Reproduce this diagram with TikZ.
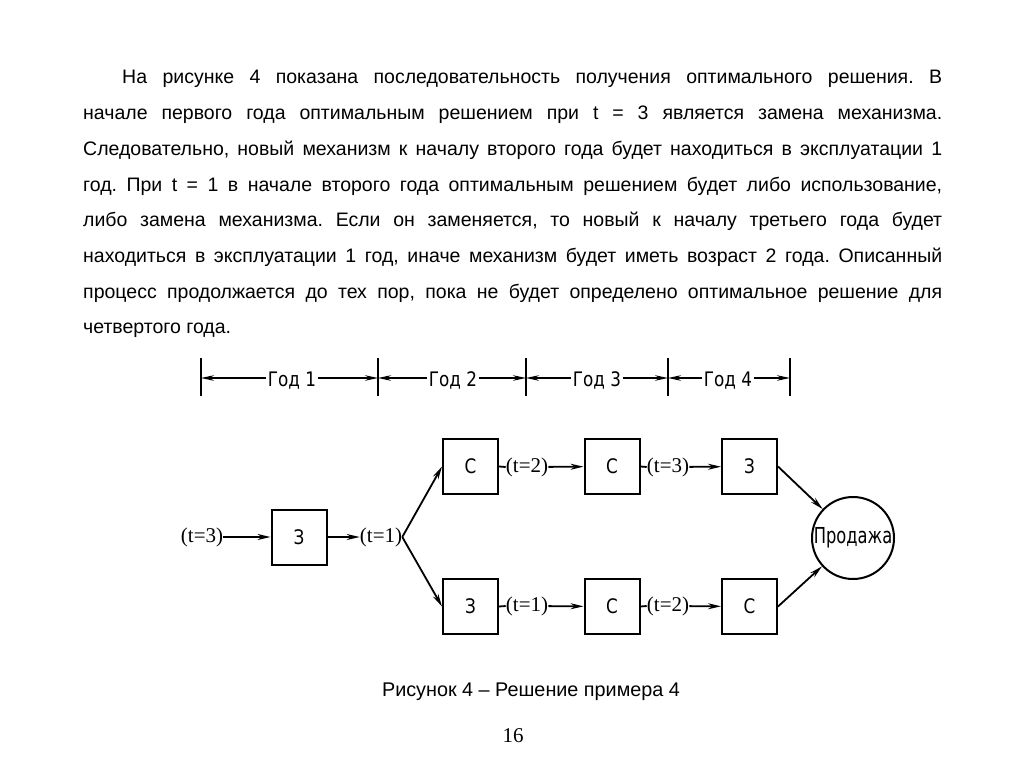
\documentclass[tikz,border=0pt]{standalone}
\usepackage{fontspec}
\setmainfont{Liberation Sans}
\newfontfamily\serifnum{Liberation Serif}
\newfontfamily\gost[FakeStretch=0.84]{DejaVu Sans}
\newfontfamily\gostn[FakeStretch=0.74]{DejaVu Sans}
\usetikzlibrary{arrows.meta}
\frenchspacing
\begin{document}
\begin{tikzpicture}[x=1pt,y=-1pt,
  txt/.style={anchor=base west, inner sep=0pt, font=\fontsize{19.5}{19.5}\selectfont},
  box/.style={draw, line width=2pt, minimum width=55pt, minimum height=55pt, inner sep=0pt, font=\gost\fontsize{20}{20}\selectfont},
  sale/.style={draw, circle, line width=2pt, minimum size=82pt, inner sep=0pt, font=\gostn\fontsize{22}{22}\selectfont},
  tlab/.style={inner sep=0pt, font=\serifnum\fontsize{21}{21}\selectfont},
  ylab/.style={anchor=base, inner xsep=2pt, inner ysep=0pt, font=\gost\fontsize{20}{20}\selectfont},
  conn/.style={line width=1.8pt, -{Stealth[length=13pt,width=6pt]}},
  plainline/.style={line width=1.8pt},
  dim/.style={line width=1.4pt, -{Stealth[length=13pt,width=5.5pt]}},
  tick/.style={line width=2.4pt}
]
\useasboundingbox[fill=white] (0,0) rectangle (1024,767);

% paragraph
\node[txt] (l1) at (122,84) {\makebox[820pt][s]{На рисунке 4 показана последовательность получения оптимального решения. В}};
\node[txt] (l2) at (83,119.7) {\makebox[859pt][s]{начале первого года оптимальным решением при t = 3 является замена механизма.}};
\node[txt] (l3) at (83,155.4) {\makebox[859pt][s]{Следовательно, новый механизм к началу второго года будет находиться в эксплуатации 1}};
\node[txt] (l4) at (83,191.1) {\makebox[859pt][s]{год. При t = 1 в начале второго года оптимальным решением будет либо использование,}};
\node[txt] (l5) at (83,226.8) {\makebox[859pt][s]{либо замена механизма. Если он заменяется, то новый к началу третьего года будет}};
\node[txt] (l6) at (83,262.5) {\makebox[859pt][s]{находиться в эксплуатации 1 год, иначе механизм будет иметь возраст 2 года. Описанный}};
\node[txt] (l7) at (83,298.2) {\makebox[859pt][s]{процесс продолжается до тех пор, пока не будет определено оптимальное решение для}};
\node[txt] (l8) at (83,333.9) {четвертого года.};

% timeline
\coordinate (k0) at (201,378);
\coordinate (k1) at (378,378);
\coordinate (k2) at (526,378);
\coordinate (k3) at (668,378);
\coordinate (k4) at (790,378);
\foreach \k in {k0,k1,k2,k3,k4} \draw[tick] ([yshift=-18pt]\k) -- ([yshift=20pt]\k);
\node[ylab] (y1) at (292,386) {Год 1};
\node[ylab] (y2) at (453,386) {Год 2};
\node[ylab] (y3) at (597,386) {Год 3};
\node[ylab] (y4) at (728,386) {Год 4};
\draw[dim] (y1.west |- k0) -- (k0);
\draw[dim] (y1.east |- k0) -- (k1);
\draw[dim] (y2.west |- k0) -- (k1);
\draw[dim] (y2.east |- k0) -- (k2);
\draw[dim] (y3.west |- k0) -- (k2);
\draw[dim] (y3.east |- k0) -- (k3);
\draw[dim] (y4.west |- k0) -- (k3);
\draw[dim] (y4.east |- k0) -- (k4);

% diagram
\node[tlab] (s3) at (202,537) {(t=3)};
\node[box] (z1) at (299,537) {З};
\node[tlab] (s1) at (381,537) {(t=1)};
\node[box] (c1) at (470.5,466.5) {С};
\node[box] (z2) at (470.5,606.5) {З};
\node[tlab] (a2) at (527,467) {(t=2)};
\node[tlab] (b1) at (527,606) {(t=1)};
\node[box] (c2) at (612,466.5) {С};
\node[box] (c3) at (612,606.5) {С};
\node[tlab] (a3) at (668,467) {(t=3)};
\node[tlab] (b2) at (668,606) {(t=2)};
\node[box] (z3) at (749.5,466.5) {З};
\node[box] (c4) at (749.5,606.5) {С};
\node[sale] (pr) at (853,538) {Продажа};

\draw[conn] (s3) -- (z1);
\draw[conn] (z1) -- (s1);
\draw[conn] (s1.east) -- (c1.west);
\draw[conn] (s1.east) -- (z2.west);
\draw[plainline] (c1.east) -- (a2.west);
\draw[plainline] (z2.east) -- (b1.west);
\draw[conn] (a2) -- (c2);
\draw[conn] (b1) -- (c3);
\draw[plainline] (c2.east) -- (a3.west);
\draw[plainline] (c3.east) -- (b2.west);
\draw[conn] (a3) -- (z3);
\draw[conn] (b2) -- (c4);
\draw[conn] (z3.east) -- (pr);
\draw[conn] (c4.east) -- (pr);

% caption and page number
\node[anchor=base, inner sep=0pt, font=\fontsize{19.8}{19.8}\selectfont] (cap) at (531,696) {Рисунок 4 – Решение примера 4};
\node[anchor=base, inner sep=0pt, font=\serifnum\fontsize{21}{21}\selectfont] (pg) at (513,742) {16};
\end{tikzpicture}
\end{document}
